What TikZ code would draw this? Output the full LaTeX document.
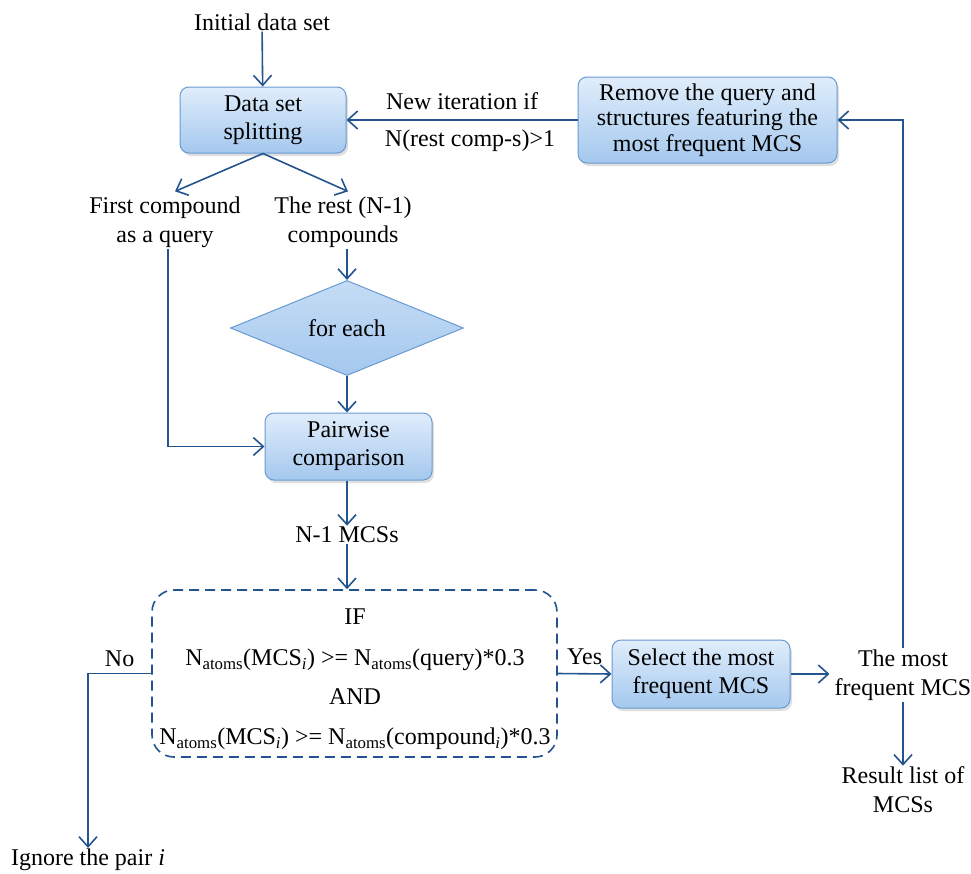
\documentclass[tikz,border=0pt]{standalone}
\usepackage{fontspec}
\setmainfont{Liberation Serif}
\usetikzlibrary{arrows.meta,shapes.geometric,shadows}
\definecolor{ln}{HTML}{24548F}
\definecolor{bd}{HTML}{6A9AD2}
\definecolor{ftop}{HTML}{E0EDFB}
\definecolor{fbot}{HTML}{A4C8EE}
\begin{document}
\begin{tikzpicture}[x=1pt,y=-1pt,
  font=\fontsize{24}{28}\selectfont,
  box/.style={draw=bd, line width=1pt, rounded corners=9pt, top color=ftop, bottom color=fbot,
    drop shadow={shadow xshift=2pt, shadow yshift=-3pt, opacity=0.25}, align=center, inner sep=2pt},
  lbl/.style={align=center, inner sep=1pt, font=\fontsize{24}{29}\selectfont},
  arr/.style={draw=ln, line width=1.6pt, -{Straight Barb[length=10pt,width=18pt,line width=1.6pt]}},
  ln/.style={draw=ln, line width=1.6pt}]
\useasboundingbox (0,0) rectangle (971,873);

\node[lbl] (init) at (262,22) {Initial data set};
\node[box, minimum width=166pt, minimum height=66pt] (split) at (263,120) {Data set\\splitting};
\node[box, minimum width=259pt, minimum height=86pt, font=\fontsize{24}{25.5}\selectfont] (remove) at (707.5,120) {Remove the query and\\structures featuring the\\most frequent MCS};
\node[lbl] (first) at (165,222) {First compound\\as a query};
\node[lbl] (rest) at (343,222) {The rest (N-1)\\compounds};
\node[diamond, draw=bd, line width=1pt, top color=ftop!55!fbot, bottom color=fbot, minimum width=233pt, minimum height=80pt, inner sep=0pt] (each) at (347,328) {for each};
\node[box, minimum width=167pt, minimum height=67pt] (pair) at (348.5,446.5) {Pairwise\\comparison};
\node[lbl] (nmcs) at (347,535) {N-1 MCSs};
\node[draw=ln, line width=1.6pt, dash pattern=on 10pt off 6pt, rounded corners=22pt, minimum width=405pt, minimum height=167pt, inner sep=0pt] (cond) at (354.5,673.5) {};
\node[lbl] (c1) at (355,617) {IF};
\node[lbl] (c2) at (355,660) {N\textsubscript{atoms}(MCS\textsubscript{\textit{i}}) >= N\textsubscript{atoms}(query)*0.3};
\node[lbl] (c3) at (355,697) {AND};
\node[lbl] (c4) at (355,739) {N\textsubscript{atoms}(MCS\textsubscript{\textit{i}}) >= N\textsubscript{atoms}(compound\textsubscript{\textit{i}})*0.3};
\node[box, minimum width=178pt, minimum height=68pt] (select) at (701,674) {Select the most\\frequent MCS};
\node[lbl] (most) at (903,675) {The most\\frequent MCS};
\node[lbl] (result) at (903,790) {Result list of\\MCSs};
\node[lbl] (ignore) at (88,860) {Ignore the pair \textit{i}};

\draw[arr] (init) -- (split);
\draw[arr] (remove) -- node[lbl, above=8pt] (newit) {New iteration if} node[lbl, below=8pt, xshift=8pt] (ncond) {N(rest comp-s)>1} (split);
\draw[arr] (split.south) -- ([xshift=10pt,yshift=4pt]first.north);
\draw[arr] (split.south) -- ([xshift=5pt,yshift=4pt]rest.north);
\draw[arr] (each.north |- rest.south) -- (each.north);
\draw[arr] (each.south) -- (pair.north -| each.south);
\draw[arr] ([xshift=3pt]first.south) |- (pair.west);
\draw[arr] (pair.south -| nmcs) -- (nmcs.north);
\draw[arr] (nmcs.south) -- (cond.north -| nmcs);
\draw[arr] (cond.west) -| node[lbl, pos=0.25, above=5pt] (no) {No} (ignore.north);
\draw[arr] (cond.east) -- node[lbl, above=7pt] (yes) {Yes} (select.west);
\draw[arr] (select.east) -- ([xshift=-4pt]select.east -| most.west);
\draw[arr] (most.north) |- (remove.east);
\draw[arr] (most.south) -- (result.north);
\end{tikzpicture}
\end{document}
